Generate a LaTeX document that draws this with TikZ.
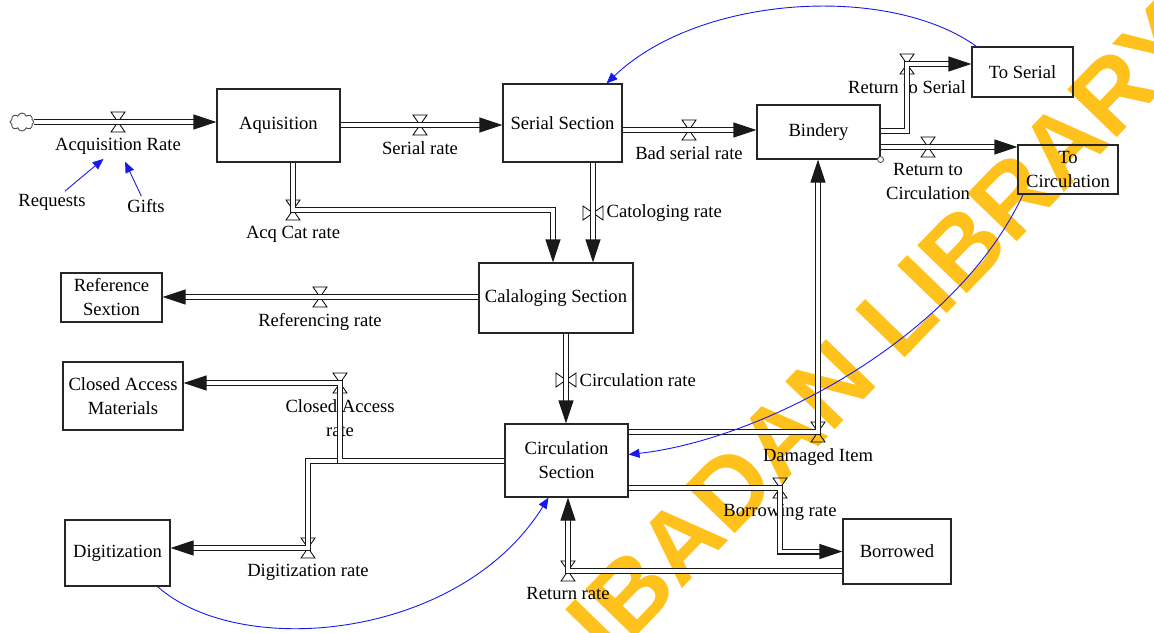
\documentclass[tikz,border=0pt]{standalone}
\usepackage{fontspec}
\setmainfont{Liberation Serif}
\newfontfamily\wmfont{Liberation Sans}
\usetikzlibrary{arrows.meta,shapes.symbols,positioning}
\definecolor{wmorange}{RGB}{255,194,28}
\definecolor{linkblue}{RGB}{25,25,235}

\begin{document}
\begin{tikzpicture}[x=0.5pt, y=-0.5pt, font=\fontsize{9.3}{12}\selectfont, line join=miter,
		stock/.style={draw=black!85, line width=0.55pt, inner sep=0pt, align=center},
		pipe/.style={draw=black!90, line width=0.55pt, double=white, double distance=1.9pt, -{Triangle[length=11.5pt,width=7.5pt]}},
		valve/.style={inner sep=0pt, minimum width=7.8pt, minimum height=10.8pt,
			path picture={\draw[line width=0.4pt] (path picture bounding box.center) ++(-3.5pt,5pt) -- ++(7pt,0pt) -- ++(-7pt,-10pt) -- ++(7pt,0pt) -- cycle;}},
		vvalve/.style={inner sep=0pt, minimum width=10.8pt, minimum height=7.8pt,
			path picture={\draw[line width=0.4pt] (path picture bounding box.center) ++(-5pt,3.5pt) -- ++(0pt,-7pt) -- ++(10pt,7pt) -- ++(0pt,-7pt) -- cycle;}},
		lbl/.style={inner sep=0.5pt, align=center},
		infolink/.style={draw=linkblue, line width=0.45pt, -{Triangle[length=5.5pt,width=4.5pt]}}
		]
	\useasboundingbox (0,0) rectangle (1154,632);
	% watermark
	\node[rotate=46, text=wmorange, font=\wmfont\bfseries\fontsize{50}{50}\selectfont] (wm) at (884,330) {IBADAN LIBRARY};

	% stocks
	\node[draw=black!70, line width=0.45pt, cloud, cloud puffs=8, minimum width=12pt, minimum height=9pt, inner sep=0pt] (src) at (22,122) {};
	\node[stock, minimum width=61.5pt, minimum height=36.5pt] (aq) at (278.5,125.5) {Aquisition};
	\node[stock, minimum width=59.5pt, minimum height=39pt] (ser) at (562.5,123) {Serial Section};
	\node[stock, minimum width=61.5pt, minimum height=27pt] (bind) at (818.5,132) {Bindery};
	\node[stock, minimum width=50.5pt, minimum height=25pt] (toser) at (1022.5,72) {To Serial};
	\node[stock, minimum width=50pt, minimum height=24.5pt] (tocirc) at (1068,169.5) {To\\Circulation};
	\node[stock, minimum width=77pt, minimum height=35pt] (cal) at (556,298) {Calaloging Section};
	\node[stock, minimum width=50.5pt, minimum height=24.5pt] (ref) at (111.5,297.5) {Reference\\Sextion};
	\node[stock, minimum width=60pt, minimum height=34pt] (closed) at (123,396) {Closed Access\\Materials};
	\node[stock, minimum width=61.5pt, minimum height=36.5pt] (circ) at (566.5,460.5) {Circulation\\Section};
	\node[stock, minimum width=52.5pt, minimum height=33pt] (digi) at (117.5,553) {Digitization};
	\node[stock, minimum width=54pt, minimum height=32.5pt] (bor) at (897,551.5) {Borrowed};
	\draw[line width=0.4pt, draw=black!70, fill=white] (bind.south east) circle (1.5pt);

	% valves
	\node[valve] (v1) at (118,122) {};
	\node[valve] (v2) at (420,125) {};
	\node[valve] (v3) at (689,130) {};
	\node[valve] (v4) at (907,64) {};
	\node[valve] (v5) at (928,147) {};
	\node[vvalve] (v6) at (593,213) {};
	\node[valve] (v7) at (293,210) {};
	\node[valve] (v8) at (320,297) {};
	\node[vvalve] (v9) at (566,380) {};
	\node[valve] (v10) at (340,383) {};
	\node[valve] (v11) at (308,548) {};
	\node[valve] (v12) at (818,432) {};
	\node[valve] (v13) at (780,488) {};
	\node[valve] (v14) at (568,571) {};

	% rate labels
	\node[lbl, below=2pt of v1] (l1) {Acquisition Rate};
	\node[lbl, below=2pt of v2] (l2) {Serial rate};
	\node[lbl, below=2pt of v3] (l3) {Bad serial rate};
	\node[lbl, below=2pt of v4] (l4) {Return to Serial};
	\node[lbl, below=2pt of v5, anchor=north] (l5) {Return to\\Circulation};
	\node[lbl, right=0.5pt of v6] (l6) {Catologing rate};
	\node[lbl, below=2pt of v7] (l7) {Acq Cat rate};
	\node[lbl, below=2pt of v8] (l8) {Referencing rate};
	\node[lbl, right=0.5pt of v9] (l9) {Circulation rate};
	\node[lbl, below=2pt of v10] (l10) {Closed Access\\rate};
	\node[lbl, below=2pt of v11] (l11) {Digitization rate};
	\node[lbl, below=2pt of v12] (l12) {Damaged Item};
	\node[lbl, below=2pt of v13] (l13) {Borrowing rate};
	\node[lbl, below=2pt of v14] (l14) {Return rate};
	\node[lbl] (req) at (52,202) {Requests};
	\node[lbl] (gifts) at (146,206) {Gifts};

	% flows
	\draw[pipe] (src.east) -- (aq.west |- src.east);
	\draw[pipe] (aq.east |- v2) -- (ser.west |- v2);
	\draw[pipe] (ser.east |- v3) -- (bind.west |- v3);
	\draw[pipe] (bind.east |- 0,131) -| (v4.center) -- (toser.west |- v4);
	\draw[pipe] (bind.east |- v5) -- (tocirc.west |- v5);
	\draw[pipe] (ser.south -| v6) -- (cal.north -| v6);
	\draw[pipe] (aq.south -| v7) -- (v7.center) -| ([xshift=-1.5pt]cal.north);
	\draw[pipe] (cal.west |- v8) -- (ref.east |- v8);
	\draw[pipe] (cal.south -| v9) -- (circ.north -| v9);
	\draw[pipe] (circ.west |- 0,461) -| (v11.center) -- (digi.east |- v11);
	\draw[pipe] (circ.west |- 0,461) -| (v10.center) -- (closed.east |- v10);
	\draw[pipe] (circ.east |- v12) -- (v12.center) -- (bind.south -| v12);
	\draw[pipe] (circ.east |- v13) -- (v13.center) |- (bor.west);
	\draw[pipe] (bor.west |- v14) -- (v14.center) -- (circ.south -| v14);

	% information links
	\draw[infolink, shorten <=1pt, shorten >=2pt] (req) -- (l1);
	\draw[infolink, shorten <=1pt, shorten >=3pt] (gifts) -- (l1);
	\draw[infolink] ([xshift=2.5pt]toser.north west) .. controls (890,-16) and (700,-6) .. ([xshift=22pt]ser.north);
	\draw[infolink] ([xshift=-22.5pt]tocirc.south) .. controls (955,340) and (760,440) .. ([yshift=3pt]circ.east);
	\draw[infolink] ([xshift=20pt]digi.south) .. controls (240,660) and (460,640) .. ([xshift=-9pt]circ.south);
\end{tikzpicture}
\end{document}
